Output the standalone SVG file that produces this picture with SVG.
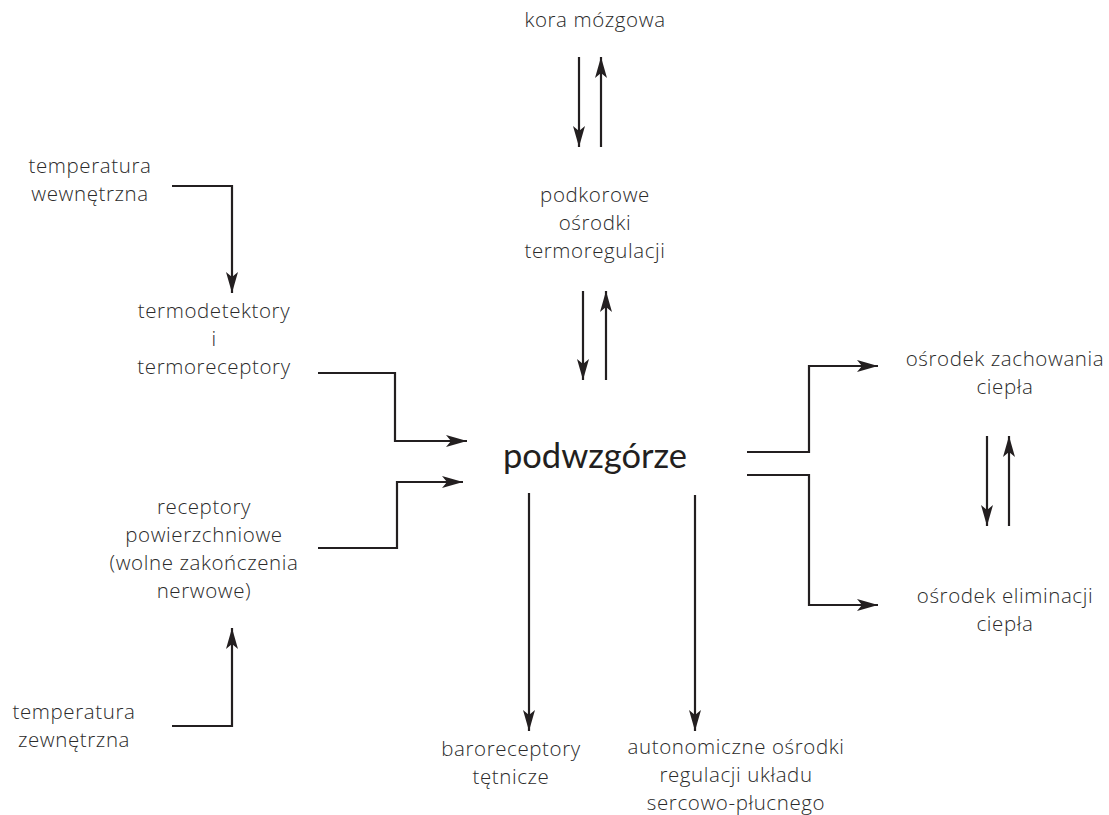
<svg xmlns="http://www.w3.org/2000/svg" width="1109" height="815" viewBox="0 0 1109 815">
<defs>
<style>
.t{font-family:"Open Sans","Noto Sans","Liberation Sans",sans-serif;font-size:20.5px;letter-spacing:0.6px;font-weight:300;fill:#2b2b2b;text-anchor:middle;}
.big{font-family:Lato,"Open Sans","Liberation Sans",sans-serif;font-size:34.5px;fill:#231f20;text-anchor:middle;}
.c{fill:none;stroke:#231f20;stroke-width:2.2;marker-end:url(#ah);}
</style>
<marker id="ah" markerUnits="userSpaceOnUse" viewBox="-1 -7 23 14" refX="21" refY="0" markerWidth="23" markerHeight="14" orient="auto">
<path d="M0,-6 L21,0 L0,6 L5,0 Z" fill="#231f20"/>
</marker>
</defs>
<rect width="1109" height="815" fill="#fff"/>
<g id="connectors">
<path class="c" d="M579,57 V147"/>
<path class="c" d="M601,147 V57"/>
<path class="c" d="M583,291 V380"/>
<path class="c" d="M606,380 V291"/>
<path class="c" d="M172,186 H232 V293"/>
<path class="c" d="M318,373 H395 V441 H467"/>
<path class="c" d="M318,548 H397 V482 H463"/>
<path class="c" d="M172,726 H232 V628"/>
<path class="c" d="M529,493 V731"/>
<path class="c" d="M695,495 V731"/>
<path class="c" d="M747,452 H809 V366 H878"/>
<path class="c" d="M747,475 H809 V605 H878"/>
<path class="c" d="M987,436 V526"/>
<path class="c" d="M1009,526 V436"/>
</g>
<g id="kora"><text class="t" x="595" y="27">kora mózgowa</text></g>
<g id="podkorowe"><text class="t" x="595" y="202">podkorowe</text><text class="t" x="595" y="230">ośrodki</text><text class="t" x="595" y="258">termoregulacji</text></g>
<g id="podwzgorze"><text class="big" x="595" y="468">podwzgórze</text></g>
<g id="temp-wew"><text class="t" x="90" y="173">temperatura</text><text class="t" x="90" y="201">wewnętrzna</text></g>
<g id="termodetektory"><text class="t" x="214" y="318">termodetektory</text><text class="t" x="214" y="346">i</text><text class="t" x="214" y="374">termoreceptory</text></g>
<g id="receptory"><text class="t" x="204" y="514">receptory</text><text class="t" x="204" y="542">powierzchniowe</text><text class="t" x="204" y="570">(wolne zakończenia</text><text class="t" x="204" y="598">nerwowe)</text></g>
<g id="temp-zew"><text class="t" x="74" y="719">temperatura</text><text class="t" x="74" y="747">zewnętrzna</text></g>
<g id="baroreceptory"><text class="t" x="511" y="756">baroreceptory</text><text class="t" x="511" y="784">tętnicze</text></g>
<g id="autonomiczne"><text class="t" x="736" y="754">autonomiczne ośrodki</text><text class="t" x="736" y="782">regulacji układu</text><text class="t" x="736" y="810">sercowo-płucnego</text></g>
<g id="zachowanie"><text class="t" x="1005" y="366">ośrodek zachowania</text><text class="t" x="1005" y="394">ciepła</text></g>
<g id="eliminacja"><text class="t" x="1005" y="603">ośrodek eliminacji</text><text class="t" x="1005" y="631">ciepła</text></g>
</svg>
